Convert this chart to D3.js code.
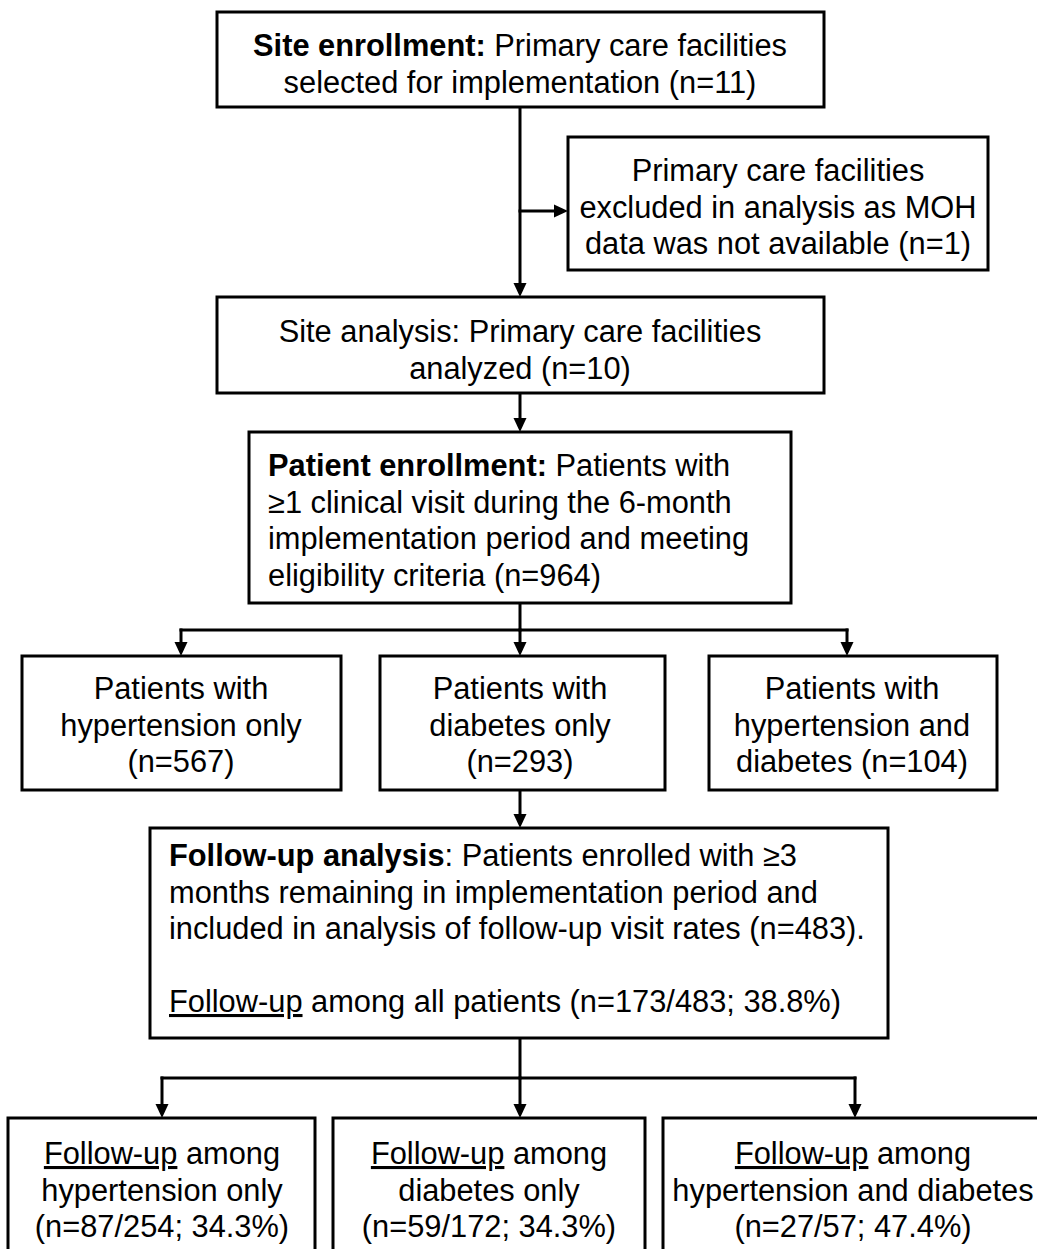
<!DOCTYPE html>
<html>
<head>
<meta charset="utf-8">
<script src="https://cdn.jsdelivr.net/npm/d3@7"></script>
<style>
  body { margin: 0; background: #fff; }
  text { font-family: "Liberation Sans", Arial, Helvetica, sans-serif; font-size: 30.8px; fill: #000; }
</style>
</head>
<body>
<svg id="svg1"></svg>
<script>
const width = 1037;
const height = 1249;

// counts
const siteCounts = [11, 1, 10];
const enrolled = 964;
const groupNames = ["hypertension only", "diabetes only", "hypertension and diabetes"];
const groupCounts = [567, 293, 104];
const followAll = [173, 483, 38.8];
const followNum = [87, 59, 27];
const followDen = [254, 172, 57];
const followPct = [34.3, 34.3, 47.4];

// box texts, **bold** and __underline__ markup
const boxText = {
  site: ["**Site enrollment:** Primary care facilities", "selected for implementation (n=" + siteCounts[0] + ")"],
  excl: ["Primary care facilities", "excluded in analysis as MOH", "data was not available (n=" + siteCounts[1] + ")"],
  anal: ["Site analysis: Primary care facilities", "analyzed (n=" + siteCounts[2] + ")"],
  enrl: ["**Patient enrollment:** Patients with", "≥1 clinical visit during the 6-month", "implementation period and meeting", "eligibility criteria (n=" + enrolled + ")"],
  g0: ["Patients with", "hypertension only", "(n=" + groupCounts[0] + ")"],
  g1: ["Patients with", "diabetes only", "(n=" + groupCounts[1] + ")"],
  g2: ["Patients with", "hypertension and", "diabetes (n=" + groupCounts[2] + ")"],
  fu: ["**Follow-up analysis**: Patients enrolled with ≥3", "months remaining in implementation period and",
       "included in analysis of follow-up visit rates (n=" + followAll[1] + ").", "",
       "__Follow-up__ among all patients (n=" + followAll[0] + "/" + followAll[1] + "; " + followAll[2] + "%)"],
  f0: ["__Follow-up__ among", groupNames[0], "(n=" + followNum[0] + "/" + followDen[0] + "; " + followPct[0] + "%)"],
  f1: ["__Follow-up__ among", groupNames[1], "(n=" + followNum[1] + "/" + followDen[1] + "; " + followPct[1] + "%)"],
  f2: ["__Follow-up__ among", groupNames[2], "(n=" + followNum[2] + "/" + followDen[2] + "; " + followPct[2] + "%)"]
};

// layout
const boxes = [
  {id: "site", x0: 217, y0: 12, x1: 824, y1: 107, ty: 56, cx: 520},
  {id: "excl", x0: 568, y0: 137, x1: 988, y1: 270, ty: 181, cx: 778},
  {id: "anal", x0: 217, y0: 297, x1: 824, y1: 393, ty: 342, cx: 520},
  {id: "enrl", x0: 249, y0: 432, x1: 791, y1: 603, ty: 476, left: 268},
  {id: "g0", x0: 22, y0: 656, x1: 341, y1: 790, ty: 699, cx: 181},
  {id: "g1", x0: 380, y0: 656, x1: 665, y1: 790, ty: 699, cx: 520},
  {id: "g2", x0: 709, y0: 656, x1: 997, y1: 790, ty: 699, cx: 852},
  {id: "fu", x0: 150, y0: 828, x1: 888, y1: 1038, ty: 866, left: 169},
  {id: "f0", x0: 8, y0: 1118, x1: 315, y1: 1262, ty: 1164, cx: 162},
  {id: "f1", x0: 333, y0: 1118, x1: 645, y1: 1262, ty: 1164, cx: 489},
  {id: "f2", x0: 663, y0: 1118, x1: 1050, y1: 1262, ty: 1164, cx: 853}
];
const lineH = 36.5;

const svg = d3.select("#svg1")
  .attr("width", width)
  .attr("height", height);

// connectors: plain lines
const lines = [
  [520, 107, 520, 285], [520, 211, 556, 211], [520, 393, 520, 420],
  [520, 603, 520, 630], [181, 630, 847, 630], [181, 630, 181, 644], [847, 630, 847, 644], [520, 630, 520, 644],
  [520, 790, 520, 816],
  [520, 1038, 520, 1078], [162, 1078, 855, 1078], [162, 1078, 162, 1106], [520, 1078, 520, 1106], [855, 1078, 855, 1106]
];
svg.selectAll("line.conn")
  .data(lines)
  .join("line")
  .attr("class", "conn")
  .attr("x1", d => d[0]).attr("y1", d => d[1])
  .attr("x2", d => d[2]).attr("y2", d => d[3])
  .attr("stroke", "#000")
  .attr("stroke-width", 3)
  .attr("stroke-linecap", "square");

// arrow heads: tip point and direction
const heads = [
  [520, 297, "down"], [568, 211, "right"], [520, 432, "down"],
  [181, 656, "down"], [520, 656, "down"], [847, 656, "down"],
  [520, 828, "down"],
  [162, 1118, "down"], [520, 1118, "down"], [855, 1118, "down"]
];
svg.selectAll("path.head")
  .data(heads)
  .join("path")
  .attr("class", "head")
  .attr("d", d => {
    const [x, y, dir] = d;
    if (dir === "down") return `M${x},${y}L${x - 6.5},${y - 14}L${x + 6.5},${y - 14}Z`;
    return `M${x},${y}L${x - 14},${y - 6.5}L${x - 14},${y + 6.5}Z`;
  })
  .attr("fill", "#000");

// boxes
const cell = svg.selectAll("g.box")
  .data(boxes)
  .join("g")
  .attr("class", "box");

cell.append("rect")
  .attr("x", d => d.x0)
  .attr("y", d => d.y0)
  .attr("width", d => d.x1 - d.x0)
  .attr("height", d => d.y1 - d.y0)
  .attr("fill", "#fff")
  .attr("stroke", "#000")
  .attr("stroke-width", 3);

// split markup into segments
function parse(str) {
  const out = [];
  const re = /(\*\*[^*]+\*\*|__[^_]+__)/g;
  let last = 0, m;
  while ((m = re.exec(str)) !== null) {
    if (m.index > last) out.push({t: str.slice(last, m.index)});
    const s = m[0];
    if (s.startsWith("**")) out.push({t: s.slice(2, -2), b: true});
    else out.push({t: s.slice(2, -2), u: true});
    last = m.index + s.length;
  }
  if (last < str.length) out.push({t: str.slice(last)});
  return out;
}

cell.each(function(d) {
  const g = d3.select(this);
  const rows = boxText[d.id];
  rows.forEach((row, i) => {
    if (!row) return;
    const t = g.append("text")
      .attr("y", d.ty + i * lineH)
      .attr("x", d.left != null ? d.left : d.cx)
      .attr("text-anchor", d.left != null ? "start" : "middle");
    parse(row).forEach(seg => {
      const ts = t.append("tspan").text(seg.t);
      if (seg.b) ts.attr("font-weight", "bold");
      if (seg.u) ts.attr("text-decoration", "underline");
    });
  });
});
</script>
</body>
</html>
